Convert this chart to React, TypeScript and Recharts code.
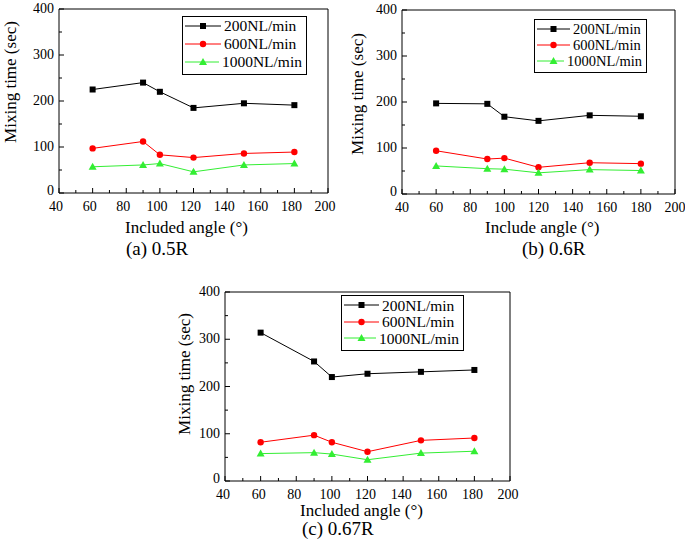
import React from 'react';
import { LineChart, Line, XAxis, YAxis, Legend, ReferenceLine } from 'recharts';

const FONT = '"Liberation Serif", "Times New Roman", serif';

// included angle (deg)
const angles = [60, 90, 100, 120, 150, 180];
const xTicks = [40, 50, 60, 70, 80, 90, 100, 110, 120, 130, 140, 150, 160, 170, 180, 190, 200];
const yTicks = [0, 50, 100, 150, 200, 250, 300, 350, 400];
const seriesNames = ['200NL/min', '600NL/min', '1000NL/min'];

// (a) 0.5R
const a200 = [225, 240, 220, 185, 195, 191];
const a600 = [97, 112, 83, 77, 86, 89];
const a1000 = [57, 61, 64, 46, 61, 64];
// (b) 0.6R
const b200 = [197, 196, 168, 159, 171, 169];
const b600 = [94, 76, 78, 58, 68, 66];
const b1000 = [61, 55, 54, 46, 53, 51];
// (c) 0.67R
const c200 = [314, 253, 220, 227, 231, 235];
const c600 = [82, 97, 82, 62, 86, 91];
const c1000 = [58, 60, 57, 45, 59, 63];

const colors = ['#000000', '#ff0000', '#33ee33'];
const shapes = ['square', 'circle', 'triangle'];
const keys = ['s200', 's600', 's1000'];

function makeRows(s200: number[], s600: number[], s1000: number[]) {
  return angles.map((angle, i) => ({ angle, s200: s200[i], s600: s600[i], s1000: s1000[i] }));
}

function Marker({ kind, cx, cy, color }: any) {
  if (kind === 'square') return <rect x={cx - 3} y={cy - 3} width={6} height={6} fill={color} />;
  if (kind === 'circle') return <circle cx={cx} cy={cy} r={3.2} fill={color} />;
  return <polygon points={`${cx},${cy - 4} ${cx + 4},${cy + 3} ${cx - 4},${cy + 3}`} fill={color} />;
}

const XTick = ({ x, y, payload, dx }: any) => {
  const v = payload.value;
  const major = v % 20 === 0;
  return (
    <g>
      <line x1={x} x2={x} y1={y} y2={y - (major ? 5 : 3)} stroke="#000" />
      {major && (
        <text x={x + dx} y={y + 18} textAnchor="middle" fontSize={14} fontFamily={FONT} fill="#000">
          {v}
        </text>
      )}
    </g>
  );
};

const YTick = ({ x, y, payload }: any) => {
  const v = payload.value;
  const major = v % 100 === 0;
  return (
    <g>
      <line x1={x} x2={x + (major ? 5 : 3)} y1={y} y2={y} stroke="#000" />
      {major && (
        <text x={x - 5} y={y + (v === 0 ? 2 : 4)} textAnchor="end" fontSize={14} fontFamily={FONT} fill="#000">
          {v}
        </text>
      )}
    </g>
  );
};

const LegendBox = ({ payload, fontSize, rowH, width, lineW, padTop }: any) => {
  const items = [...(payload || [])].sort(
    (p: any, q: any) => seriesNames.indexOf(p.value) - seriesNames.indexOf(q.value)
  );
  return (
    <div
      style={{
        border: '1px solid #000',
        background: '#fff',
        boxSizing: 'border-box',
        width,
        padding: `${padTop}px 4px 3px 2px`,
        fontFamily: FONT,
        fontSize,
        lineHeight: 1,
      }}
    >
      {items.map((entry: any) => {
        const i = seriesNames.indexOf(entry.value);
        return (
          <div key={entry.value} style={{ display: 'flex', alignItems: 'center', height: rowH }}>
            <svg width={lineW} height={10} style={{ display: 'block' }}>
              <line x1={0} x2={lineW} y1={5} y2={5} stroke={colors[i]} />
              <Marker kind={shapes[i]} cx={lineW / 2} cy={5} color={colors[i]} />
            </svg>
            <span style={{ marginLeft: 3, whiteSpace: 'nowrap' }}>{entry.value}</span>
          </div>
        );
      })}
    </div>
  );
};

function Panel({ rows, width, height, margin, xAxisH, dx, legend }: any) {
  return (
    <LineChart width={width} height={height} data={rows} margin={margin}>
      <XAxis
        type="number"
        dataKey="angle"
        domain={[40, 200]}
        ticks={xTicks}
        interval={0}
        height={xAxisH}
        tickSize={0}
        tickMargin={0}
        tickLine={false}
        axisLine={{ stroke: '#000' }}
        tick={(p: any) => <XTick {...p} dx={dx} />}
      />
      <YAxis
        type="number"
        domain={[0, 400]}
        ticks={yTicks}
        interval={0}
        width={59}
        tickSize={0}
        tickMargin={0}
        tickLine={false}
        axisLine={{ stroke: '#000' }}
        tick={(p: any) => <YTick {...p} />}
      />
      <ReferenceLine y={400} stroke="#000" />
      <ReferenceLine x={200} stroke="#000" />
      <Legend
        layout="vertical"
        verticalAlign="middle"
        align="center"
        wrapperStyle={{ left: legend.left, top: legend.top, width: legend.width }}
        content={(p: any) => <LegendBox {...p} {...legend} />}
      />
      {keys.map((k, i) => (
        <Line
          key={k}
          type="linear"
          dataKey={k}
          name={seriesNames[i]}
          stroke={colors[i]}
          strokeWidth={1}
          isAnimationActive={false}
          dot={(d: any) => <Marker key={`${k}-${d.index}`} kind={shapes[i]} cx={d.cx} cy={d.cy} color={colors[i]} />}
        />
      ))}
    </LineChart>
  );
}

const textStyle = { fontFamily: FONT, fill: '#000' };

export default function App() {
  return (
    <div style={{ position: 'absolute', left: 0, top: 0, width: 685, height: 549, background: '#fff' }}>
      <div style={{ position: 'absolute', left: 0, top: 0 }}>
        <Panel
          rows={makeRows(a200, a600, a1000)}
          width={340}
          height={270}
          margin={{ top: 9, right: 12, left: 0, bottom: 0 }}
          xAxisH={77}
          dx={-3}
          legend={{ left: 182, top: 16, width: 125, fontSize: 15.5, rowH: 18, lineW: 36, padTop: 0 }}
        />
      </div>
      <div style={{ position: 'absolute', left: 343, top: 0 }}>
        <Panel
          rows={makeRows(b200, b600, b1000)}
          width={342}
          height={270}
          margin={{ top: 10, right: 10, left: 0, bottom: 0 }}
          xAxisH={76}
          dx={0}
          legend={{ left: 191, top: 19, width: 113, fontSize: 14.5, rowH: 16, lineW: 33, padTop: 1 }}
        />
      </div>
      <div style={{ position: 'absolute', left: 166, top: 280 }}>
        <Panel
          rows={makeRows(c200, c600, c1000)}
          width={354}
          height={269}
          margin={{ top: 12, right: 10, left: 0, bottom: 0 }}
          xAxisH={68}
          dx={-2}
          legend={{ left: 175, top: 15, width: 123, fontSize: 15.5, rowH: 16.5, lineW: 35, padTop: 1 }}
        />
      </div>
      <svg width={685} height={549} style={{ position: 'absolute', left: 0, top: 0, pointerEvents: 'none' }}>
        <text x={10} y={82} transform="rotate(-90 10 82)" textAnchor="middle" dominantBaseline="central" fontSize={17} style={textStyle}>
          Mixing time (sec)
        </text>
        <text x={357} y={94} transform="rotate(-90 357 94)" textAnchor="middle" dominantBaseline="central" fontSize={17} style={textStyle}>
          Mixing time (sec)
        </text>
        <text x={184} y={374} transform="rotate(-90 184 374)" textAnchor="middle" dominantBaseline="central" fontSize={17} style={textStyle}>
          Mixing time (sec)
        </text>
        <text x={125} y={233} fontSize={17} style={textStyle}>Included angle (°)</text>
        <text x={485} y={233} fontSize={17} style={textStyle}>Include angle (°)</text>
        <text x={300} y={516} fontSize={17} style={textStyle}>Included angle (°)</text>
        <text x={126} y={255} fontSize={19} style={textStyle}>(a) 0.5R</text>
        <text x={522} y={255} fontSize={19} style={textStyle}>(b) 0.6R</text>
        <text x={302} y={535} fontSize={19} style={textStyle}>(c) 0.67R</text>
      </svg>
    </div>
  );
}
